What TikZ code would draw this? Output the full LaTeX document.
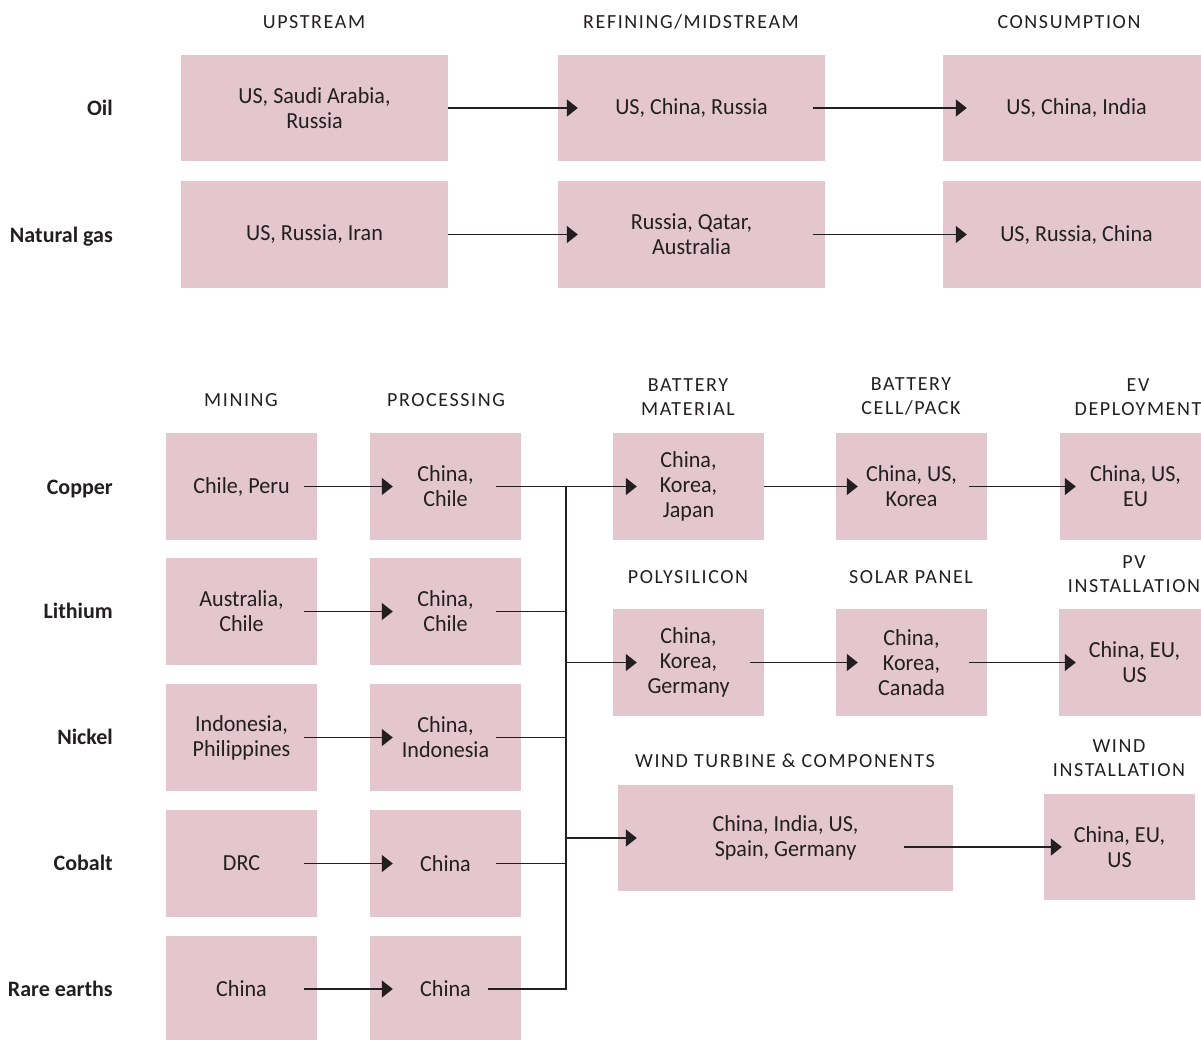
\documentclass[tikz,border=0pt]{standalone}
\usepackage{fontspec}
\setmainfont{Carlito}
\newfontfamily\bodyfont{Carlito}[FakeStretch=0.96]
\newfontfamily\headfont{Carlito}[LetterSpace=8]
\usetikzlibrary{arrows.meta}
\definecolor{boxpink}{RGB}{227,198,206}
\definecolor{ink}{RGB}{35,31,32}
\begin{document}
\begin{tikzpicture}[x=1pt,y=-1pt,
  box/.style={fill=boxpink, inner sep=0pt, minimum height=106.5pt, text=ink,
    font=\bodyfont\fontsize{23}{25}\selectfont, align=center},
  widebox/.style={box, minimum width=267pt},
  narrowbox/.style={box, minimum width=151pt},
  hdr/.style={font=\headfont\fontsize{20}{24}\selectfont, text=ink, align=center, inner sep=0pt},
  rowlbl/.style={font=\bfseries\fontsize{22}{25}\selectfont, text=ink, anchor=base east, inner sep=0pt},
  arr/.style={draw=ink, line width=1.5pt, -{Triangle[length=11pt,width=17pt]}},
  ln/.style={draw=ink, line width=1.5pt}]
\useasboundingbox (0,0) rectangle (1201,1039);
\clip (0,0) rectangle (1201,1039);

% ---------- top section ----------
\node[hdr] (hup) at (314,22) {UPSTREAM};
\node[hdr] (hre) at (691,22) {REFINING/MIDSTREAM};
\node[hdr] (hco) at (1069,22) {CONSUMPTION};

\node[rowlbl] (loil) at (113,115) {Oil};
\node[rowlbl] (lgas) at (113,242) {Natural gas};

\node[widebox] (up1) at (314.5,108) {US, Saudi Arabia,\\Russia};
\node[widebox] (ref1) at (691.5,108) {US, China, Russia};
\node[widebox] (con1) at (1076.5,108) {US, China, India};
\node[widebox] (up2) at (314.5,234.5) {US, Russia, Iran};
\node[widebox] (ref2) at (691.5,234.5) {Russia, Qatar,\\Australia};
\node[widebox] (con2) at (1076.5,234.5) {US, Russia, China};

\draw[arr] (up1.east) -- ([xshift=20pt]ref1.west);
\draw[arr] ([xshift=-12pt]ref1.east) -- ([xshift=24pt]con1.west);
\draw[arr] (up2.east) -- ([xshift=20pt]ref2.west);
\draw[arr] ([xshift=-12pt]ref2.east) -- ([xshift=24pt]con2.west);

% ---------- bottom section ----------
\node[hdr] (hmin) at (241,400) {MINING};
\node[hdr] (hpro) at (446,400) {PROCESSING};
\node[hdr] (hbm) at (688,397) {BATTERY\\MATERIAL};
\node[hdr] (hbc) at (911,397) {BATTERY\\CELL/PACK};
\node[hdr] (hev) at (1138,397) {EV\\DEPLOYMENT};
\node[hdr] (hpoly) at (688,577) {POLYSILICON};
\node[hdr] (hsol) at (911,577) {SOLAR PANEL};
\node[hdr] (hpv) at (1134,574) {PV\\INSTALLATION};
\node[hdr] (hwt) at (785,761) {WIND TURBINE \& COMPONENTS};
\node[hdr] (hwi) at (1119,758) {WIND\\INSTALLATION};

\node[rowlbl] (lcu) at (113,494) {Copper};
\node[rowlbl] (lli) at (113,618) {Lithium};
\node[rowlbl] (lni) at (113,744) {Nickel};
\node[rowlbl] (lco) at (113,870) {Cobalt};
\node[rowlbl] (lre) at (113,996) {Rare earths};

\node[narrowbox] (m1) at (241.5,486.5) {Chile, Peru};
\node[narrowbox] (p1) at (445.5,486.5) {China,\\Chile};
\node[narrowbox] (m2) at (241.5,611.5) {Australia,\\Chile};
\node[narrowbox] (p2) at (445.5,611.5) {China,\\Chile};
\node[narrowbox] (m3) at (241.5,737.5) {Indonesia,\\Philippines};
\node[narrowbox] (p3) at (445.5,737.5) {China,\\Indonesia};
\node[narrowbox] (m4) at (241.5,863.5) {DRC};
\node[narrowbox] (p4) at (445.5,863.5) {China};
\node[narrowbox] (m5) at (241.5,989) {China};
\node[narrowbox] (p5) at (445.5,989) {China};

\node[narrowbox] (bm) at (688.5,486.5) {China,\\Korea,\\Japan};
\node[narrowbox] (bc) at (911.5,486.5) {China, US,\\Korea};
\node[narrowbox] (ev) at (1135.5,486.5) {China, US,\\EU};
\node[narrowbox] (poly) at (688.5,662.5) {China,\\Korea,\\Germany};
\node[narrowbox] (sol) at (911.5,662.5) {China,\\Korea,\\Canada};
\node[narrowbox] (pv) at (1134.5,662.5) {China, EU,\\US};
\node[box, minimum width=335pt] (wt) at (785.5,838) {China, India, US,\\Spain, Germany};
\node[narrowbox] (wi) at (1119.5,847) {China, EU,\\US};

% mining -> processing
\foreach \i in {1,...,5}{
  \draw[arr] ([xshift=-13pt]m\i.east) -- ([xshift=23pt]p\i.west);
}

% processing -> bus
\coordinate (bustop) at (566,486.5);
\draw[arr] ([xshift=-25pt]p1.east) -- ([xshift=24pt]bm.west);
\draw[ln] ([xshift=-25pt]p2.east) -- (p2.east -| bustop);
\draw[ln] ([xshift=-25pt]p3.east) -- (p3.east -| bustop);
\draw[ln] ([xshift=-25pt]p4.east) -- (p4.east -| bustop);
\draw[ln] ([xshift=-33pt]p5.east) -- (p5.east -| bustop) -- (bustop);

% bus branches
\draw[arr] (poly.west -| bustop) -- ([xshift=24pt]poly.west);
\draw[arr] (wt.west -| bustop) -- ([xshift=19pt]wt.west);

% downstream chains
\draw[arr] (bm.east) -- ([xshift=22pt]bc.west);
\draw[arr] ([xshift=-18pt]bc.east) -- ([xshift=16pt]ev.west);
\draw[arr] ([xshift=-14pt]poly.east) -- ([xshift=22pt]sol.west);
\draw[arr] ([xshift=-18pt]sol.east) -- ([xshift=17pt]pv.west);
\coordinate (wtout) at ([xshift=-49pt,yshift=-9pt]wt.east);
\draw[arr] (wtout) -- ([xshift=18pt]wi.west);
\end{tikzpicture}
\end{document}
